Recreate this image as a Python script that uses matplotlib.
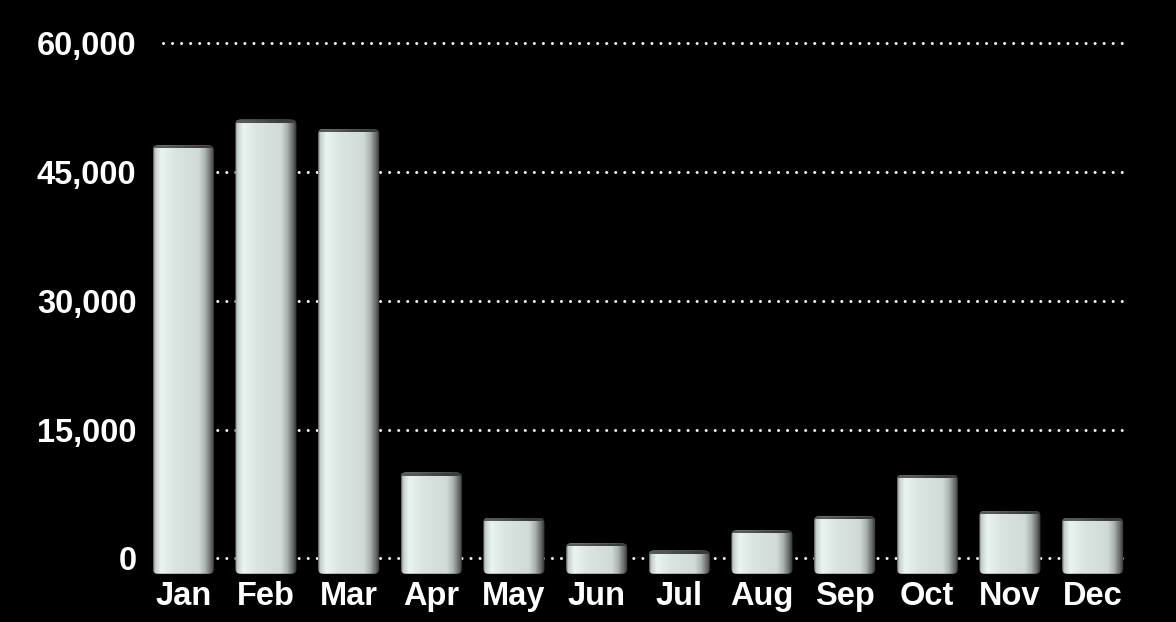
import numpy as np
import matplotlib
matplotlib.use("Agg")
import matplotlib.pyplot as plt
from matplotlib.colors import LinearSegmentedColormap
from matplotlib.patches import FancyBboxPatch
from matplotlib.ticker import FuncFormatter

# data
months = ['Jan', 'Feb', 'Mar', 'Apr', 'May', 'Jun',
          'Jul', 'Aug', 'Sep', 'Oct', 'Nov', 'Dec']
values = [48100, 51100, 50000, 10000, 4700, 1750,
          900, 3250, 4900, 9700, 5500, 4700]
yticks = [0, 15000, 30000, 45000, 60000]

# style
BG = '#000000'
DEPTH = 1800      # bars hang below the zero line (3d look)
BAR_W = 0.74

shade = LinearSegmentedColormap.from_list('bar', [
    (0.00, '#4e5250'),
    (0.03, '#c0cac6'),
    (0.13, '#eaf4f0'),
    (0.35, '#dae4e0'),
    (0.74, '#d0dad6'),
    (0.84, '#adb5b2'),
    (0.93, '#6c706e'),
    (1.00, '#2c2e2d'),
])

fig = plt.figure(figsize=(11.76, 6.22), dpi=100)
fig.patch.set_facecolor(BG)
ax = fig.add_axes([0.1207, 0.0775, 0.8435, 0.8667])
ax.set_facecolor(BG)

x = np.arange(len(months))
ax.set_xlim(-0.5, len(months) - 0.5)
ax.set_ylim(-DEPTH, 61000)

# dotted grid, a bit narrower than the axes
ax.hlines(yticks, 0.021, 0.99, transform=ax.get_yaxis_transform(),
          colors='#f2f2f2', linewidth=2.2, linestyles=(0, (0.01, 2.95)),
          capstyle='round', zorder=1, clip_on=False)

fig.canvas.draw()
# data units per pixel, for rim and corner sizes
px_x = 1.0 / (ax.transData.transform((1, 0))[0] - ax.transData.transform((0, 0))[0])
px_y = 1.0 / abs(ax.transData.transform((0, 1))[1] - ax.transData.transform((0, 0))[1])

grad = np.linspace(0, 1, 256).reshape(1, -1)
rim_cmap = LinearSegmentedColormap.from_list('rim', ['#555857', '#3a3c3b'])
for xi, v in zip(x, values):
    left = xi - BAR_W / 2
    bottom = -DEPTH
    h = v + DEPTH
    clip = FancyBboxPatch((left, bottom), BAR_W, h,
                          boxstyle='round,pad=0,rounding_size=%f' % (5 * px_x),
                          mutation_aspect=px_y / px_x,
                          facecolor='none', edgecolor='none', zorder=2)
    ax.add_patch(clip)
    img = ax.imshow(grad, cmap=shade, extent=(left, left + BAR_W, bottom, v),
                    aspect='auto', interpolation='bilinear', zorder=2)
    img.set_clip_path(clip)
    # darker top face
    rim = ax.imshow(np.array([[0.0, 1.0]]), cmap=rim_cmap,
                    extent=(left, left + BAR_W, v - 3 * px_y, v),
                    aspect='auto', interpolation='bilinear', zorder=3)
    rim.set_clip_path(clip)

ax.set_xticks(x)
ax.set_xticklabels(months)
ax.set_yticks(yticks)
ax.yaxis.set_major_formatter(FuncFormatter(lambda v, p: f'{int(v):,}'))

for lab in ax.get_xticklabels() + ax.get_yticklabels():
    lab.set_fontfamily('Liberation Sans')
    lab.set_fontweight('bold')
    lab.set_fontsize(23.5)
    lab.set_color('white')

ax.tick_params(axis='x', length=0, pad=5)
ax.tick_params(axis='y', length=0, pad=4)
for spine in ax.spines.values():
    spine.set_visible(False)

fig.savefig('out.png', dpi=100, facecolor=BG)
